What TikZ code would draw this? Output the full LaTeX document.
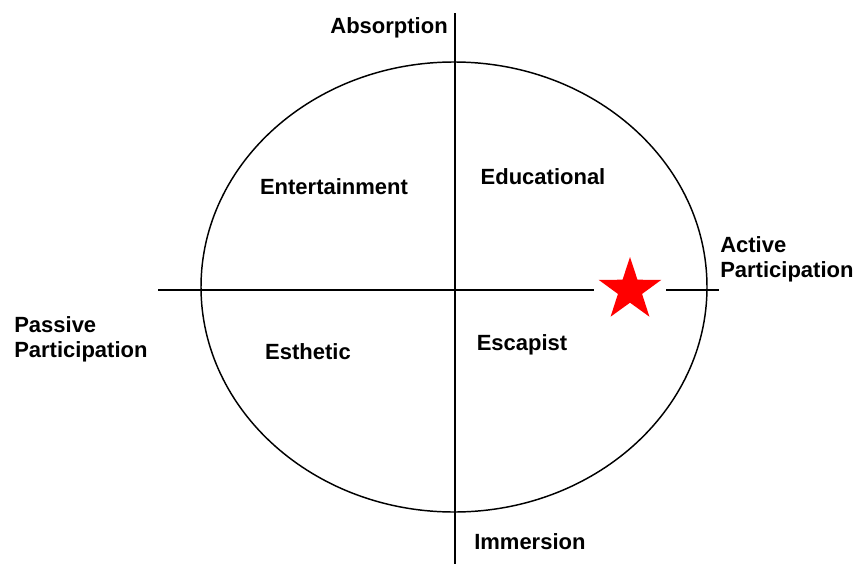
\documentclass[tikz,border=0pt]{standalone}
\usepackage{fontspec}
\setmainfont{Liberation Sans}
\usepackage{tikz}
\usetikzlibrary{shapes.geometric, positioning}
\definecolor{starred}{RGB}{255, 0, 0}

\begin{document}
\begin{tikzpicture}[
    x=0.75pt, y=-0.75pt,
    every node/.style={font=\fontsize{16.5}{19}\selectfont\bfseries, inner sep=0pt},
    axis/.style={line width=1.1pt, black},
    pole/.style={align=left, anchor=west},
    marker/.style={star, star points=5, star point ratio=2.6, fill=starred, draw=none, minimum size=49.5pt, inner sep=0pt},
]

% ── Frame ──
\useasboundingbox (0,0) rectangle (860,564);

% ── Ellipse ──
\coordinate (mid) at (454,287);
\draw[axis] (mid) ellipse [x radius=253, y radius=225];

% ── Axis ends ──
\coordinate (axtop) at (455,13);
\coordinate (axbot) at (455,564);
\coordinate (axleft) at (158,290);
\coordinate (axright) at (719,290);

% ── Star ──
\node[marker] (star) at (630,290) {};

% ── Axes ──
\draw[axis] (axtop) -- (axbot);
\draw[axis, shorten >=27pt] (axleft) -- (star.center);
\draw[axis, shorten <=27pt] (star.center) -- (axright);

% ── Axis labels ──
\node[anchor=east] (absorption) at (448,28) {Absorption};
\node[anchor=west] (immersion) at (474,542) {Immersion};
\node[pole] (active) at (720,259) {Active\\Participation};
\node[pole] (passive) at (14,339) {Passive\\Participation};

% ── Quadrants ──
\node (entertainment) at (334,187) {Entertainment};
\node (educational) at (543,177) {Educational};
\node (esthetic) at (308,352) {Esthetic};
\node (escapist) at (522,345) {Escapist};

\end{tikzpicture}
\end{document}
